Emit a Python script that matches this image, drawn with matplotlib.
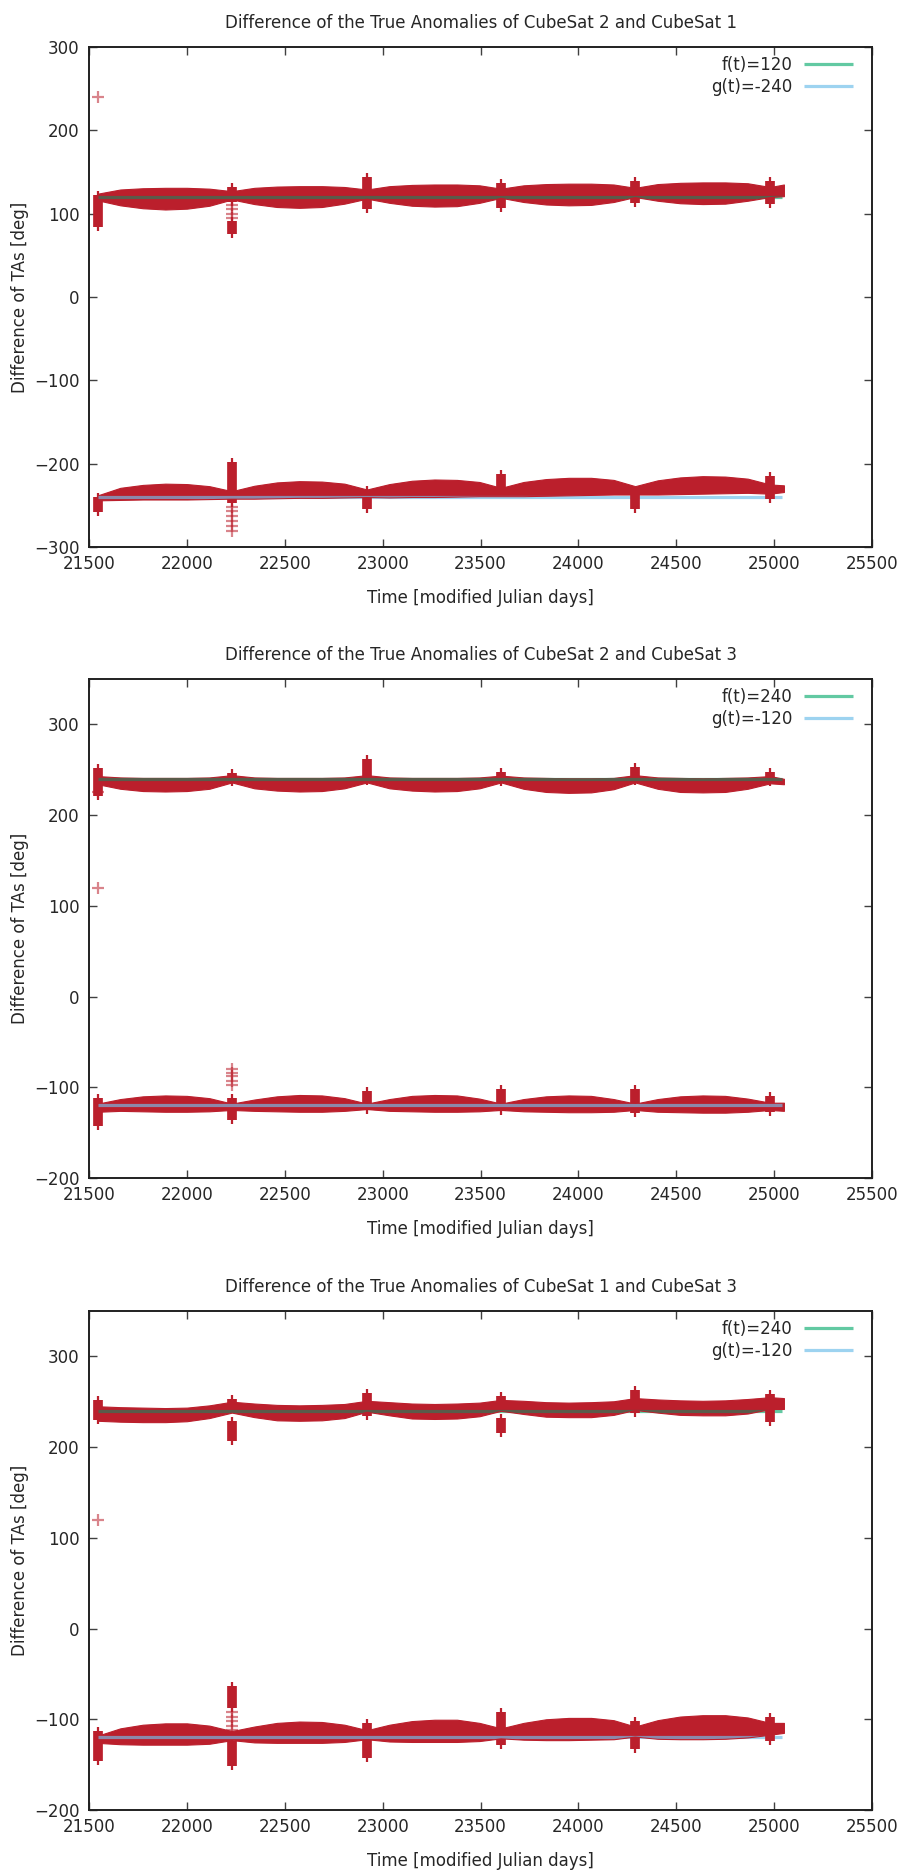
import numpy as np
import matplotlib
matplotlib.use("Agg")
import matplotlib.pyplot as plt

# ---------------- data ----------------
titles = ["Difference of the True Anomalies of CubeSat 2 and CubeSat 1",
          "Difference of the True Anomalies of CubeSat 2 and CubeSat 3",
          "Difference of the True Anomalies of CubeSat 1 and CubeSat 3"]
f_values = [120, 240, 240]
g_values = [-240, -120, -120]
ylims = [(-300, 300), (-200, 350), (-200, 350)]
yticks_list = [[-300, -200, -100, 0, 100, 200, 300],
               [-200, -100, 0, 100, 200, 300],
               [-200, -100, 0, 100, 200, 300]]
xticks = [21500, 22000, 22500, 23000, 23500, 24000, 24500, 25000, 25500]
line_x = [21545, 25040]

# envelope sample times (modified Julian days)
env_x = [21545, 21660, 21775, 21890, 22000, 22115, 22230, 22345, 22460, 22575,
         22690, 22805, 22920, 23035, 23150, 23265, 23380, 23495, 23605, 23720,
         23835, 23950, 24065, 24180, 24290, 24405, 24520, 24635, 24750, 24865,
         24980, 25050]

# panel 1 : upper band (bottom edge / top edge), lower band
p1_up_bot = [116, 110, 106.5, 105, 106, 109.5, 117, 111.5, 108, 107, 108, 112, 118,
             113, 109.5, 108.5, 109, 113, 119, 114, 111, 110, 110.5, 114, 120,
             115.5, 112.5, 111.5, 112, 115.5, 120, 121]
p1_up_top = [124, 129, 130.5, 131, 131, 130, 127, 131, 132.5, 133, 133, 132, 129,
             133, 134.5, 135, 135, 134, 130, 134, 135.5, 136, 136, 135, 131,
             135.5, 137, 137.5, 137.5, 136.5, 132, 135]
p1_lo_bot = [-244, -243.5, -243, -243, -243, -242.5, -242, -242, -241.5, -241, -241,
             -240.5, -240, -240.5, -240, -240, -239.5, -239, -239, -239, -238.5,
             -238, -237.5, -237, -237, -237, -236.5, -236, -235.5, -235, -236, -234]
p1_lo_top = [-238, -229, -225.5, -224, -224.5, -227, -233, -226.5, -222.5, -221,
             -221.5, -224, -231, -224.5, -220.5, -219, -219.5, -222, -229, -222,
             -218.5, -217, -217, -219.5, -227, -220, -216.5, -215, -215.5, -218,
             -225, -226]
p1_spike_x = [21545, 22230, 22230, 22920, 23605, 24290, 24980,
              21545, 22230, 22920, 23605, 24290, 24980]
p1_spike_lo = [84, 76, 114, 106, 107, 113, 112,
               -258, -247, -254, -232, -254, -243]
p1_spike_hi = [122, 91, 132, 144, 137, 139, 139,
               -240, -198, -232, -213, -238, -215]
p1_light_x = [21545, 22230, 22230, 22230, 22230,
              22230, 22230, 22230, 22230, 22230, 22230]
p1_light_y = [240, 95, 100, 105, 110, -252, -257, -263, -269, -275, -281]

# panel 2
p2_up_bot = [234, 229, 226.5, 226, 226.5, 229, 236, 229.5, 227, 226, 226.5, 229.5,
             236, 229.5, 227, 226, 226.5, 229.5, 236, 229, 225.5, 224.5, 225, 228.5,
             236, 229, 225.5, 225, 225.5, 229, 235, 234]
p2_up_top = [243, 241.5, 241, 241, 241, 241.5, 244, 241.5, 241, 241, 241, 241.5,
             244, 241.5, 241, 241, 241, 241.5, 243.5, 241.5, 241, 240.5, 240.5, 241,
             244, 241.5, 241, 240.5, 241, 241.5, 243, 240]
p2_lo_bot = [-127, -126, -126.5, -127, -127, -126.5, -125, -126, -126.5, -127, -127,
             -126, -124, -126, -126.5, -127, -127, -126.5, -125, -126.5, -127,
             -127.5, -127.5, -127, -125, -127, -127.5, -128, -128, -127, -125, -126]
p2_lo_top = [-118, -113, -110, -109, -109.5, -112, -118, -113.5, -110, -108.5, -109,
             -112, -118, -113, -109.5, -108.5, -109, -112.5, -118, -113, -110, -109,
             -109.5, -113, -118, -113, -110, -109, -109.5, -112.5, -117, -117]
p2_spike_x = [21545, 22230, 22920, 23605, 24290, 24980,
              21545, 22230, 22920, 23605, 24290, 24980]
p2_spike_lo = [221, 236, 238, 237, 238, 236,
               -143, -136, -125, -126, -128, -127]
p2_spike_hi = [252, 246, 262, 247, 253, 247,
               -112, -112, -104, -102, -102, -110]
p2_light_x = [21545, 21545, 22230, 22230, 22230, 22230, 22230]
p2_light_y = [120, 226, -80, -84, -88, -93, -98]

# panel 3
p3_up_bot = [229, 228, 227.5, 227.5, 228.5, 232, 238, 233, 229.5, 229, 229.5, 232,
             239, 235, 231.5, 231, 231.5, 234, 240, 236.5, 233.5, 233, 233, 235.5,
             241, 238, 235.5, 235, 235, 237, 242, 242]
p3_up_top = [245, 244, 243.5, 243, 243.5, 246, 250, 248, 246.5, 246, 246.5, 247.5,
             251, 249.5, 248, 247.5, 248, 249, 252, 251, 249.5, 249, 249.5, 250.5,
             254, 252.5, 251.5, 251, 251.5, 253, 255, 254]
p3_lo_bot = [-126, -127.5, -128, -128, -128, -127, -123, -125.5, -126, -126, -126,
             -125, -122, -124.5, -125, -125, -125, -124, -121, -122.5, -123, -123,
             -122.5, -122, -119, -121.5, -122, -122, -121.5, -120, -117, -115]
p3_lo_top = [-118, -110, -106, -104.5, -104.5, -107, -113, -108, -104, -102.5, -103,
             -106, -112, -106, -102, -100.5, -100.5, -104, -110, -104, -100, -98.5,
             -98.5, -101, -108, -101, -97, -95.5, -95.5, -98, -104, -104]
p3_spike_x = [21545, 22230, 22230, 22920, 23605, 23605, 24290, 24980,
              21545, 22230, 22230, 22920, 23605, 24290, 24980]
p3_spike_lo = [230, 207, 244, 234, 216, 248, 238, 228,
               -146, -88, -151, -143, -128, -133, -124]
p3_spike_hi = [252, 229, 253, 260, 232, 256, 263, 259,
               -113, -63, -124, -104, -92, -102, -97]
p3_light_x = [21545, 22230, 22230, 22230, 22230, 22230]
p3_light_y = [120, -92, -97, -102, -107, -112]

# ---------------- style ----------------
RED = "#bb1f2c"
GREEN = "#62c9a2"
BLUE = "#9dd3f0"
GREEN_UNDER = "#5a5b4a"
BLUE_UNDER = "#8c88aa"
TXT = "#262626"

panels = [
    dict(up=(p1_up_bot, p1_up_top), lo=(p1_lo_bot, p1_lo_top),
         sx=p1_spike_x, slo=p1_spike_lo, shi=p1_spike_hi, lx=p1_light_x, ly=p1_light_y),
    dict(up=(p2_up_bot, p2_up_top), lo=(p2_lo_bot, p2_lo_top),
         sx=p2_spike_x, slo=p2_spike_lo, shi=p2_spike_hi, lx=p2_light_x, ly=p2_light_y),
    dict(up=(p3_up_bot, p3_up_top), lo=(p3_lo_bot, p3_lo_top),
         sx=p3_spike_x, slo=p3_spike_lo, shi=p3_spike_hi, lx=p3_light_x, ly=p3_light_y),
]

W, H = 905, 1876
fig = plt.figure(figsize=(W / 100, H / 100), dpi=100)
ax_left, ax_right = 89, 872
tops = [47, 679, 1311]
bottoms = [547, 1178, 1810]

for i, pdat in enumerate(panels):
    top, bot = tops[i], bottoms[i]
    ax = fig.add_axes([ax_left / W, 1 - bot / H, (ax_right - ax_left) / W, (bot - top) / H])
    ymin, ymax = ylims[i]
    ax.set_xlim(xticks[0], xticks[-1])
    ax.set_ylim(ymin, ymax)
    ppd = (bot - top) / (ymax - ymin)  # pixels per degree
    ext = 4 / ppd

    f, g = f_values[i], g_values[i]
    ax.plot(line_x, [f, f], color=GREEN, lw=2.3, zorder=1, label=f"f(t)={f}",
            solid_capstyle="butt")
    ax.plot(line_x, [g, g], color=BLUE, lw=2.3, zorder=1, label=f"g(t)={g}",
            solid_capstyle="butt")

    bands = []
    for key in ("up", "lo"):
        b, t = pdat[key]
        pc = ax.fill_between(env_x, b, t, color=RED, lw=0.8, edgecolor=RED, zorder=2)
        bands.append(pc)

    # line seen through the dense red points
    ov1, = ax.plot(line_x, [f, f], color=GREEN_UNDER, lw=2.3, zorder=3, solid_capstyle="butt")
    ov1.set_clip_path(bands[0].get_paths()[0], ax.transData)
    ov2, = ax.plot(line_x, [g, g], color=BLUE_UNDER, lw=2.3, zorder=3, solid_capstyle="butt")
    ov2.set_clip_path(bands[1].get_paths()[0], ax.transData)

    sx = np.array(pdat["sx"])
    slo = np.array(pdat["slo"], dtype=float)
    shi = np.array(pdat["shi"], dtype=float)
    ax.vlines(sx, slo, shi, color=RED, lw=7, zorder=2.5)
    ax.vlines(sx, slo - ext, shi + ext, color=RED, lw=1.6, zorder=2.5)
    ax.plot(pdat["lx"], pdat["ly"], ls="none", marker="+", ms=9, mew=1.6,
            color=RED, alpha=0.55, zorder=2.6)

    ax.set_xticks(xticks)
    ax.set_yticks(yticks_list[i])
    ax.tick_params(direction="in", length=6, width=1.0, top=True, right=True,
                   color="#404040", labelcolor=TXT, labelsize=12)
    ax.tick_params(axis="x", pad=6)
    ax.tick_params(axis="y", pad=7)
    for sp in ax.spines.values():
        sp.set_linewidth(1.4)
        sp.set_color("#202020")

    ax.set_title(titles[i], fontsize=12, color=TXT, pad=14)
    ax.set_xlabel("Time [modified Julian days]", fontsize=12, color=TXT)
    ax.xaxis.set_label_coords(0.5, -42 / (bot - top))
    ax.set_ylabel("Difference of TAs [deg]", fontsize=12, color=TXT)
    ax.yaxis.set_label_coords(-60 / (ax_right - ax_left), 0.5)

    leg = ax.legend(loc="upper right",
                    bbox_to_anchor=((853 - ax_left) / (ax_right - ax_left), 1 - 9 / (bot - top)),
                    frameon=False, markerfirst=False, fontsize=12, handlelength=2.95,
                    handletextpad=0.66, borderpad=0, borderaxespad=0, labelspacing=0.25,
                    alignment="right")
    for t in leg.get_texts():
        t.set_color(TXT)

fig.savefig("out.png", dpi=100)
